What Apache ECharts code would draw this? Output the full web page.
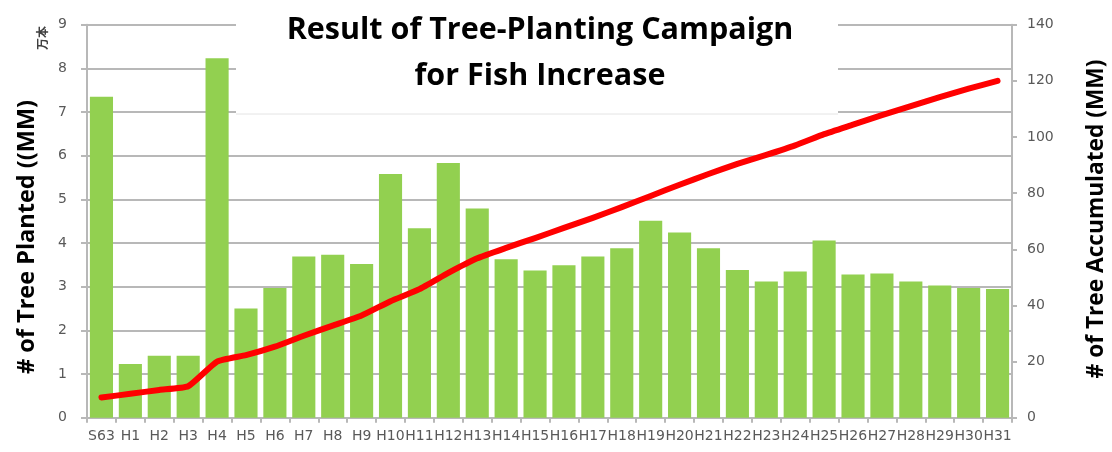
<!DOCTYPE html>
<html>
<head>
<meta charset="utf-8">
<script src="https://cdn.jsdelivr.net/npm/echarts@6/dist/echarts.min.js"></script>
<style>
  html, body { margin: 0; padding: 0; background: #fff; }
  #chartmain { width: 1112px; height: 452px; }
</style>
</head>
<body>
<div id="chartmain"></div>
<script>
// 年度（昭和63年〜平成31年）
var years = ['S63', 'H1', 'H2', 'H3', 'H4', 'H5', 'H6', 'H7', 'H8', 'H9',
  'H10', 'H11', 'H12', 'H13', 'H14', 'H15', 'H16', 'H17', 'H18', 'H19',
  'H20', 'H21', 'H22', 'H23', 'H24', 'H25', 'H26', 'H27', 'H28', 'H29',
  'H30', 'H31'];

// 植樹本数（万本）
var planted = [7.35, 1.23, 1.42, 1.42, 8.23, 2.50, 2.97, 3.69, 3.73, 3.52,
  5.58, 4.34, 5.83, 4.79, 3.63, 3.37, 3.49, 3.69, 3.88, 4.51,
  4.24, 3.88, 3.38, 3.12, 3.35, 4.06, 3.28, 3.30, 3.12, 3.03,
  2.97, 2.95];

// 累計（万本）
var accumulated = [7.2, 8.5, 9.9, 11.2, 20.0, 22.3, 25.3, 29.2, 32.8, 36.4,
  41.5, 45.8, 51.6, 56.8, 60.5, 64.0, 67.6, 71.2, 75.0, 79.0,
  83.0, 86.8, 90.4, 93.6, 97.0, 101.0, 104.4, 107.8, 111.0, 114.2,
  117.2, 120.0];

var titleText = 'Result of Tree-Planting Campaign\nfor Fish Increase';
var leftName = '# of Tree Planted ((MM)';
var rightName = '# of Tree Accumulated (MM)';

var axisGray = '#b8b8b8';
var labelGray = '#595959';
var labelFont = { color: labelGray, fontSize: 14, fontFamily: 'DejaVu Sans' };

var option = {
  backgroundColor: '#ffffff',
  animation: false,
  title: {
    text: titleText,
    left: 535,
    top: 2,
    textAlign: 'center',
    z: 10,
    textStyle: {
      fontFamily: 'Open Sans',
      fontWeight: 'bold',
      fontSize: 30.5,
      lineHeight: 46,
      color: '#000'
    }
  },
  grid: { left: 87, right: 100, top: 24.7, bottom: 34.3 },
  xAxis: {
    type: 'category',
    data: years,
    axisLine: { lineStyle: { color: axisGray, width: 2 } },
    axisTick: { show: true, length: 5, lineStyle: { color: axisGray, width: 2 } },
    axisLabel: Object.assign({ interval: 0, margin: 12 }, labelFont)
  },
  yAxis: [
    {
      type: 'value',
      min: 0, max: 9, interval: 1,
      axisLine: { show: true, lineStyle: { color: axisGray, width: 2 } },
      axisTick: { show: true, length: 6, lineStyle: { color: axisGray, width: 2 } },
      axisLabel: Object.assign({ margin: 20 }, labelFont),
      splitLine: { lineStyle: { color: axisGray, width: 2 } }
    },
    {
      type: 'value',
      min: 0, max: 140, interval: 20,
      position: 'right',
      axisLine: { show: true, lineStyle: { color: axisGray, width: 2 } },
      axisTick: { show: true, length: 5, lineStyle: { color: axisGray, width: 2 } },
      axisLabel: Object.assign({ margin: 15 }, labelFont),
      splitLine: { show: false }
    }
  ],
  graphic: [
    // タイトルの白い背景
    { type: 'rect', z: 5, shape: { x: 236, y: 0, width: 602, height: 114 }, style: { fill: '#fff' } },
    { type: 'line', z: 5, shape: { x1: 236, y1: 114, x2: 838, y2: 114 }, style: { stroke: '#e4e4e4', lineWidth: 1 } },
    {
      type: 'text', z: 10, x: 27, y: 237, rotation: Math.PI / 2,
      style: { text: leftName, fontFamily: 'Open Sans', fontWeight: 'bold', fontSize: 23.5, fill: '#000', align: 'center', verticalAlign: 'middle' }
    },
    {
      type: 'text', z: 10, x: 1097, y: 219, rotation: Math.PI / 2,
      style: { text: rightName, fontFamily: 'Open Sans', fontWeight: 'bold', fontSize: 22.7, fill: '#000', align: 'center', verticalAlign: 'middle' }
    },
    {
      type: 'text', z: 10, x: 42, y: 38, rotation: Math.PI / 2,
      style: { text: '万本', fontFamily: 'Noto Sans CJK JP', fontWeight: 'bold', fontSize: 12, fill: '#404040', align: 'center', verticalAlign: 'middle' }
    }
  ],
  series: [
    {
      name: 'planted',
      type: 'bar',
      data: planted,
      barCategoryGap: '20%',
      itemStyle: { color: '#92d050' }
    },
    {
      name: 'accumulated',
      type: 'line',
      yAxisIndex: 1,
      data: accumulated,
      showSymbol: false,
      symbol: 'none',
      smooth: 0.15,
      lineStyle: { color: '#ff0000', width: 6, cap: 'round', join: 'round' }
    }
  ]
};

var myChart = echarts.init(document.getElementById('chartmain'));
myChart.setOption(option);
</script>
</body>
</html>
